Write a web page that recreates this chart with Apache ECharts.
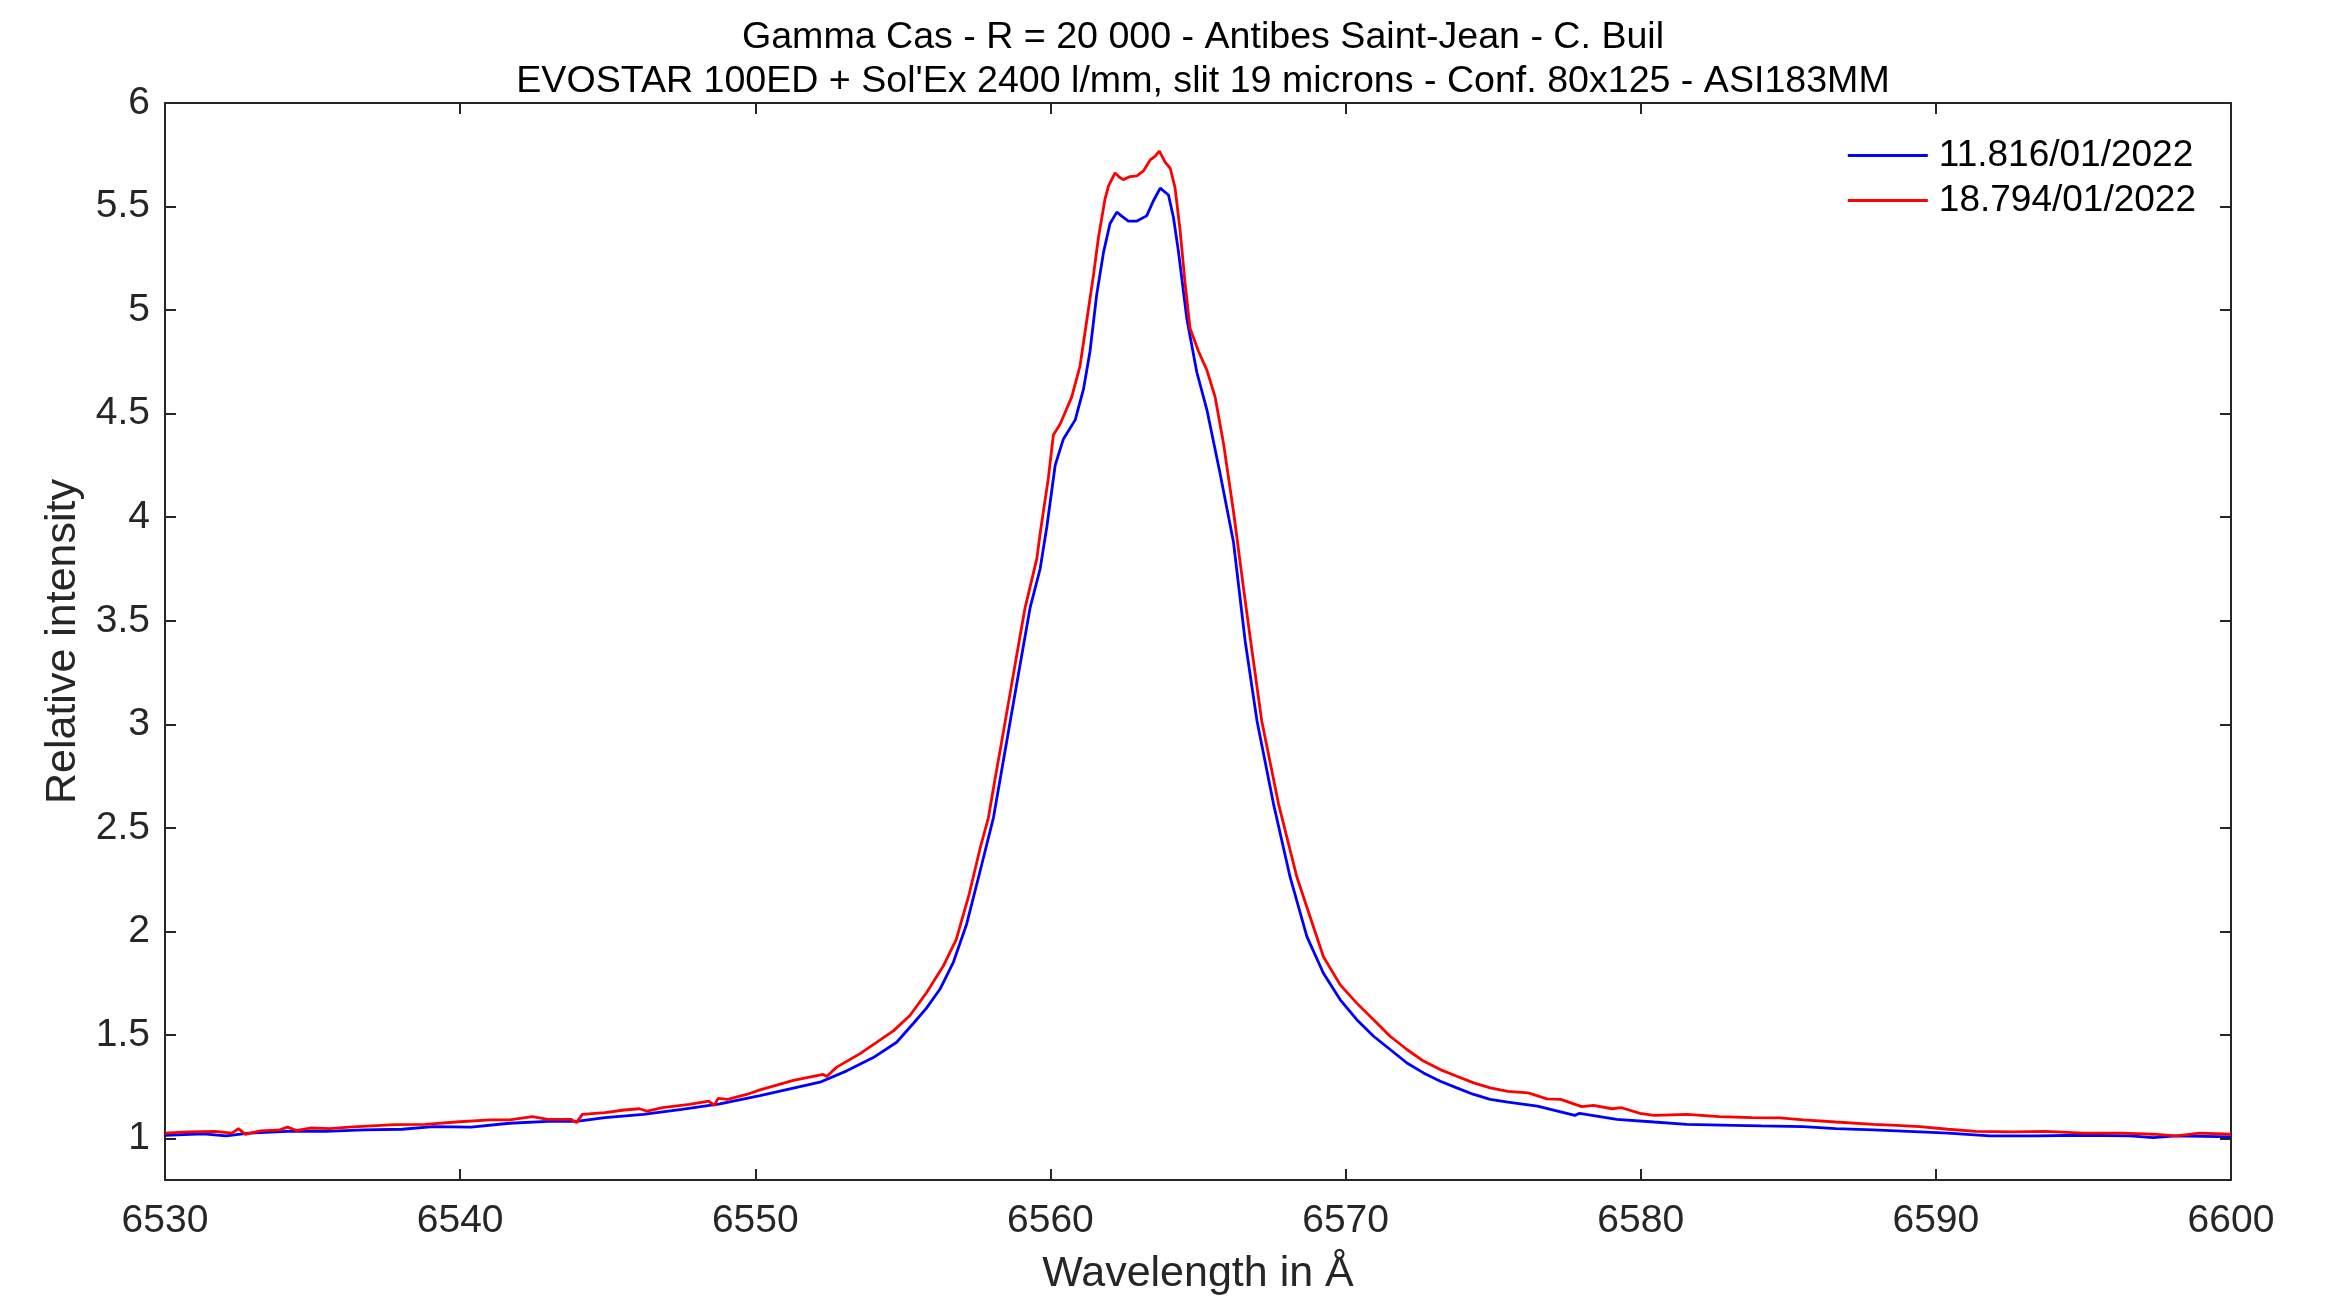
<!DOCTYPE html>
<html>
<head>
<meta charset="utf-8">
<title>Gamma Cas H-alpha</title>
<script src="https://cdn.jsdelivr.net/npm/echarts@6/dist/echarts.min.js"></script>
<style>
  html, body { margin: 0; padding: 0; background: #fff; }
  #chart { width: 2335px; height: 1301px; }
</style>
</head>
<body>
<div id="chart"></div>
<script>
// Spectrum of 11.816/01/2022 (wavelength in Å, relative intensity)
const blueWave = [
  6530.0, 6531.3, 6532.07, 6532.85, 6534.15, 6535.45, 6536.74, 6538.04, 6539.08, 6540.37,
  6541.67, 6542.97, 6543.94, 6544.91, 6546.21, 6547.51, 6548.8, 6550.16, 6551.29, 6552.19,
  6553.1, 6554.0, 6554.79, 6555.36, 6555.8, 6556.26, 6556.71, 6557.16, 6557.62, 6558.07,
  6558.52, 6558.97, 6559.31, 6559.65, 6559.88, 6560.16, 6560.44, 6560.84, 6561.12, 6561.34,
  6561.57, 6561.8, 6562.02, 6562.25, 6562.45, 6562.64, 6562.93, 6563.26, 6563.49, 6563.72,
  6564.0, 6564.17, 6564.34, 6564.62, 6564.96, 6565.3, 6565.75, 6566.2, 6566.6, 6567.0,
  6567.56, 6568.12, 6568.69, 6569.25, 6569.82, 6570.38, 6570.95, 6571.51, 6572.08, 6572.64,
  6573.21, 6573.77, 6574.34, 6574.9, 6575.5, 6576.5, 6577.77, 6577.93, 6579.19, 6580.45,
  6581.56, 6583.14, 6584.09, 6585.51, 6586.61, 6587.88, 6589.46, 6590.41, 6591.83, 6593.41,
  6594.99, 6596.57, 6597.36, 6598.15, 6600.0
];
const blueFlux = [
  1.016, 1.023, 1.013, 1.026, 1.035, 1.035, 1.042, 1.045, 1.058, 1.055,
  1.074, 1.083, 1.083, 1.101, 1.117, 1.141, 1.168, 1.207, 1.244, 1.272,
  1.327, 1.391, 1.465, 1.557, 1.63, 1.722, 1.851, 2.035, 2.293, 2.55,
  2.918, 3.286, 3.562, 3.75, 3.955, 4.25, 4.378, 4.47, 4.618, 4.80,
  5.077, 5.28, 5.418, 5.473, 5.45, 5.43, 5.43, 5.455, 5.528, 5.589,
  5.556, 5.446, 5.28, 4.96, 4.70, 4.52, 4.21, 3.882, 3.40, 3.016,
  2.615, 2.263, 1.975, 1.798, 1.67, 1.574, 1.494, 1.43, 1.365, 1.317,
  1.277, 1.245, 1.213, 1.189, 1.176, 1.157, 1.112, 1.122, 1.093, 1.08,
  1.069, 1.064, 1.061, 1.058, 1.048, 1.042, 1.032, 1.026, 1.013, 1.013,
  1.016, 1.013, 1.005, 1.013, 1.008
];

// Spectrum of 18.794/01/2022
const redWave = [
  6530.0, 6530.78, 6531.69, 6532.27, 6532.49, 6532.72, 6533.24, 6533.89, 6534.15, 6534.47,
  6534.93, 6535.58, 6536.22, 6537.0, 6537.78, 6538.82, 6539.86, 6541.02, 6541.67, 6542.45,
  6542.97, 6543.75, 6543.94, 6544.14, 6544.91, 6545.56, 6546.08, 6546.34, 6546.86, 6547.77,
  6548.42, 6548.61, 6548.74, 6549.06, 6549.71, 6550.16, 6551.29, 6552.3, 6552.42, 6552.76,
  6553.55, 6554.68, 6555.24, 6555.8, 6556.37, 6556.81, 6557.25, 6557.62, 6557.9, 6558.12,
  6558.35, 6558.53, 6558.8, 6558.98, 6559.14, 6559.54, 6559.65, 6559.93, 6560.1, 6560.33,
  6560.72, 6561.0, 6561.23, 6561.46, 6561.63, 6561.85, 6561.97, 6562.19, 6562.35, 6562.47,
  6562.7, 6562.93, 6563.15, 6563.38, 6563.55, 6563.69, 6563.89, 6564.06, 6564.22, 6564.39,
  6564.56, 6564.73, 6565.02, 6565.3, 6565.58, 6565.86, 6566.2, 6566.54, 6566.77, 6567.16,
  6567.73, 6568.35, 6568.8, 6569.25, 6569.82, 6570.38, 6570.95, 6571.51, 6572.08, 6572.64,
  6573.21, 6573.77, 6574.34, 6574.9, 6575.5, 6576.19, 6576.82, 6577.29, 6578.0, 6578.4,
  6579.03, 6579.35, 6579.98, 6580.45, 6581.56, 6582.66, 6583.77, 6584.72, 6585.51, 6586.61,
  6587.88, 6588.67, 6589.46, 6590.41, 6591.35, 6592.62, 6593.72, 6594.99, 6596.25, 6597.36,
  6598.15, 6598.94, 6600.0
];
const redFlux = [
  1.026, 1.032, 1.035, 1.026, 1.048, 1.02, 1.037, 1.042, 1.055, 1.039,
  1.051, 1.048, 1.055, 1.061, 1.067, 1.069, 1.080, 1.090, 1.090, 1.106,
  1.093, 1.093, 1.077, 1.117, 1.125, 1.138, 1.144, 1.132, 1.149, 1.165,
  1.181, 1.16, 1.194, 1.189, 1.213, 1.235, 1.281, 1.31, 1.30, 1.345,
  1.41, 1.52, 1.594, 1.704, 1.833, 1.962, 2.182, 2.403, 2.55, 2.734,
  2.918, 3.065, 3.286, 3.434, 3.562, 3.80, 3.92, 4.19, 4.397, 4.45,
  4.58, 4.728, 4.949, 5.17, 5.353, 5.537, 5.60, 5.662, 5.64, 5.63,
  5.645, 5.648, 5.672, 5.725, 5.743, 5.768, 5.713, 5.685, 5.593, 5.39,
  5.133, 4.912, 4.80, 4.71, 4.581, 4.36, 4.03, 3.66, 3.417, 3.016,
  2.615, 2.263, 2.07, 1.878, 1.742, 1.654, 1.574, 1.494, 1.43, 1.374,
  1.333, 1.301, 1.269, 1.245, 1.228, 1.221, 1.192, 1.189, 1.154, 1.16,
  1.144, 1.149, 1.122, 1.112, 1.117, 1.106, 1.101, 1.1, 1.09, 1.08,
  1.069, 1.064, 1.058, 1.045, 1.035, 1.032, 1.035, 1.026, 1.026, 1.021,
  1.013, 1.026, 1.021
];

const seriesNames = ['11.816/01/2022', '18.794/01/2022'];
const yTicks = [1, 1.5, 2, 2.5, 3, 3.5, 4, 4.5, 5, 5.5, 6];
const titleLines = [
  'Gamma Cas - R = 20 000 - Antibes Saint-Jean - C. Buil',
  "EVOSTAR 100ED + Sol'Ex 2400 l/mm, slit 19 microns - Conf. 80x125 - ASI183MM"
];

const FONT = '"Liberation Sans", Arial, Helvetica, sans-serif';
const AXIS_COLOR = '#262626';

const pairs = (xs, ys) => xs.map((x, i) => [x, ys[i]]);

const axisLineStyle = { show: true, lineStyle: { color: AXIS_COLOR, width: 2 } };
const tickStyle = { show: true, inside: true, length: 11, lineStyle: { color: AXIS_COLOR, width: 2 } };

const chart = echarts.init(document.getElementById('chart'), null, { renderer: 'canvas' });

chart.setOption({
  animation: false,
  backgroundColor: '#ffffff',
  title: {
    text: titleLines.join('\n'),
    left: 1198,
    top: 11,
    textAlign: 'center',
    textStyle: { fontFamily: FONT, fontSize: 37.6, fontWeight: 'normal', color: '#000', lineHeight: 44 }
  },
  grid: { left: 165, right: 104, top: 103, bottom: 117, containLabel: false },
  legend: {
    orient: 'vertical',
    right: 134,
    top: 128,
    icon: 'rect',
    itemWidth: 80,
    itemHeight: 3,
    itemGap: 0,
    data: seriesNames,
    textStyle: { fontFamily: FONT, fontSize: 37, color: '#000', lineHeight: 45, padding: [0, 0, 0, 6] }
  },
  xAxis: [
    {
      type: 'value', position: 'bottom', min: 6530, max: 6600, interval: 10,
      name: 'Wavelength in Å', nameLocation: 'middle', nameGap: 73,
      nameTextStyle: { fontFamily: FONT, fontSize: 43, color: AXIS_COLOR },
      axisLine: axisLineStyle, axisTick: tickStyle, splitLine: { show: false },
      axisLabel: { fontFamily: FONT, fontSize: 39, color: AXIS_COLOR, margin: 22, formatter: v => String(v) }
    },
    {
      type: 'value', position: 'top', min: 6530, max: 6600, interval: 10,
      axisLine: axisLineStyle, axisTick: tickStyle, splitLine: { show: false },
      axisLabel: { show: false }
    }
  ],
  yAxis: [
    {
      type: 'value', position: 'left', min: 0.8, max: 6,
      name: 'Relative intensity', nameLocation: 'middle', nameGap: 80,
      nameTextStyle: { fontFamily: FONT, fontSize: 43, color: AXIS_COLOR },
      axisLine: axisLineStyle,
      axisTick: Object.assign({}, tickStyle, { customValues: yTicks }),
      splitLine: { show: false },
      axisLabel: { fontFamily: FONT, fontSize: 39, color: AXIS_COLOR, margin: 15, customValues: yTicks }
    },
    {
      type: 'value', position: 'right', min: 0.8, max: 6,
      axisLine: axisLineStyle,
      axisTick: Object.assign({}, tickStyle, { customValues: yTicks }),
      splitLine: { show: false },
      axisLabel: { show: false, customValues: yTicks }
    }
  ],
  series: [
    {
      name: seriesNames[0], type: 'line', xAxisIndex: 0, yAxisIndex: 0,
      data: pairs(blueWave, blueFlux), showSymbol: false, symbol: 'none',
      lineStyle: { color: '#0000ff', width: 2.8 }, itemStyle: { color: '#0000ff' }
    },
    {
      name: seriesNames[1], type: 'line', xAxisIndex: 0, yAxisIndex: 0,
      data: pairs(redWave, redFlux), showSymbol: false, symbol: 'none',
      lineStyle: { color: '#ff0000', width: 2.8 }, itemStyle: { color: '#ff0000' }
    }
  ]
});
</script>
</body>
</html>
